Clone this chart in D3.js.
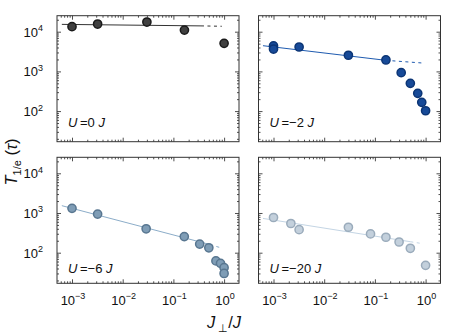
<!DOCTYPE html>
<html>
<head>
<meta charset="utf-8">
<script src="https://cdn.jsdelivr.net/npm/d3@7"></script>
<style>
body { margin: 0; background: #fff; }
svg { display: block; }
text { font-family: "Liberation Sans", Arial, Helvetica, sans-serif; fill: #111; }
</style>
</head>
<body>
<svg id="chart" width="457" height="333"></svg>
<script>
// tick values and their exponent labels
const xTicks = [1e-3, 1e-2, 1e-1, 1e0]
const xTickExp = ['\u22123', '\u22122', '\u22121', '0']
const yTicks = [1e2, 1e3, 1e4]
const yTickExp = ['2', '3', '4']

const uLabels = ['0', '\u22122', '\u22126', '\u221220']

// U = 0 J
const xU0 = [0.001, 0.0032, 0.03, 0.165, 1.0]
const yU0 = [13400, 15600, 17500, 11000, 5100]
// U = -2 J
const xU2 = [0.001, 0.001, 0.0032, 0.03, 0.165, 0.33, 0.5, 0.7, 0.84, 1.0]
const yU2 = [4370, 3660, 4120, 2550, 1940, 930, 500, 280, 166, 102]
// U = -6 J
const xU6 = [0.001, 0.0032, 0.029, 0.164, 0.33, 0.5, 0.69, 0.85, 1.0, 1.0]
const yU6 = [1310, 940, 400, 254, 165, 133, 62, 54, 42, 30]
// U = -20 J
const xU20 = [0.001, 0.0022, 0.0032, 0.03, 0.082, 0.165, 0.3, 0.5, 1.0]
const yU20 = [770, 543, 380, 437, 297, 245, 186, 129, 48]

// fitted lines: solid part then dashed continuation
const fitSolidX = [[0.00063, 0.35], [0.00062, 0.165], [0.00063, 0.53], [0.00062, 0.5]]
const fitSolidY = [[15300, 14000], [4440, 1900], [1530, 160], [730, 189]]
const fitDashX = [[0.35, 0.9], [0.165, 0.9], [0.53, 0.93], [0.5, 0.78]]
const fitDashY = [[14000, 13700], [1900, 1620], [160, 129], [189, 173]]

const xsAll = [xU0, xU2, xU6, xU20]
const ysAll = [yU0, yU2, yU6, yU20]

const fills = ['#404040', '#174a98', '#7f9db6', '#c3d0dc']
const strokes = ['#1a1a1a', '#0c3575', '#587690', '#9aabbb']
const lineColors = ['#333333', '#1f5bb0', '#8cadc9', '#c4d5e4']

const panelW = 182
const panelH = 126
const panelX = [57, 258.5, 57, 258.5]
const panelY = [15.7, 15.7, 157.3, 157.3]
const annotDy = [111, 111, 116, 116]

const svg = d3.select('#chart')

const xScale = d3.scaleLog()
    .domain([Math.pow(10, -3.296), Math.pow(10, 0.294)])
    .range([0, panelW])

const yScale = d3.scaleLog()
    .domain([Math.pow(10, 1.229), Math.pow(10, 4.403)])
    .range([panelH, 0])

const xMinor = xScale.ticks().filter(v => !xTicks.includes(v))
const yMinor = yScale.ticks().filter(v => !yTicks.includes(v))

const line = d3.line()
    .x(d => xScale(d[0]))
    .y(d => yScale(d[1]))

function powLabel(sel, exp) {
    sel.append('tspan').text('10')
    sel.append('tspan')
        .attr('dy', -5.5)
        .attr('font-size', 9)
        .text(exp)
}

xsAll.forEach((xs, i) => {
    const g = svg.append('g')
        .attr('transform', `translate(${panelX[i]},${panelY[i]})`)

    // ticks on all four sides, pointing inward
    const sides = [
        [d3.axisBottom, `translate(0,${panelH})`, xScale, xTicks, xMinor],
        [d3.axisTop, 'translate(0,0)', xScale, xTicks, xMinor],
        [d3.axisLeft, 'translate(0,0)', yScale, yTicks, yMinor],
        [d3.axisRight, `translate(${panelW},0)`, yScale, yTicks, yMinor]
    ]
    sides.forEach(s => {
        const [axisFn, tr, sc, major, minor] = s
        const gm = g.append('g').attr('transform', tr)
            .call(axisFn(sc).tickValues(major).tickSizeInner(-4).tickSizeOuter(0).tickFormat(''))
        const gn = g.append('g').attr('transform', tr)
            .call(axisFn(sc).tickValues(minor).tickSizeInner(-2).tickSizeOuter(0).tickFormat(''))
        ;[gm, gn].forEach(a => {
            a.select('.domain').remove()
            a.selectAll('line').attr('stroke', '#222').attr('stroke-width', 0.8)
        })
    })

    g.append('rect')
        .attr('width', panelW)
        .attr('height', panelH)
        .attr('fill', 'none')
        .attr('stroke', '#333')
        .attr('stroke-width', 1)

    // fit lines
    const solid = fitSolidX[i].map((x, k) => [x, fitSolidY[i][k]])
    const dash = fitDashX[i].map((x, k) => [x, fitDashY[i][k]])
    g.append('path')
        .attr('d', line(solid))
        .attr('fill', 'none')
        .attr('stroke', lineColors[i])
        .attr('stroke-width', 1)
    g.append('path')
        .attr('d', line(dash))
        .attr('fill', 'none')
        .attr('stroke', lineColors[i])
        .attr('stroke-width', 1)
        .attr('stroke-dasharray', '3,3.5')

    // data points
    const pts = xs.map((x, k) => [x, ysAll[i][k]])
    g.selectAll('circle')
        .data(pts)
        .enter()
        .append('circle')
        .attr('cx', d => xScale(d[0]))
        .attr('cy', d => yScale(d[1]))
        .attr('r', 4.1)
        .attr('fill', fills[i])
        .attr('stroke', strokes[i])
        .attr('stroke-width', 1.5)

    // panel annotation
    const t = g.append('text')
        .attr('x', 11)
        .attr('y', annotDy[i])
        .attr('font-size', 13)
    t.append('tspan').attr('font-style', 'italic').text('U')
    t.append('tspan').text('\u2009=' + uLabels[i] + ' ')
    t.append('tspan').attr('font-style', 'italic').text('J')

    // tick labels
    if (i % 2 === 0) {
        yTicks.forEach((v, k) => {
            const lab = g.append('text')
                .attr('x', -14)
                .attr('y', yScale(v) + 5)
                .attr('text-anchor', 'end')
                .attr('font-size', 13)
            powLabel(lab, yTickExp[k])
        })
    }
    if (i >= 2) {
        xTicks.forEach((v, k) => {
            const lab = g.append('text')
                .attr('x', xScale(v) + 1)
                .attr('y', panelH + 21.5)
                .attr('text-anchor', 'middle')
                .attr('font-size', 13)
            powLabel(lab, xTickExp[k])
        })
    }
})

// axis titles
const yTitle = svg.append('text')
    .attr('transform', 'translate(17,162) rotate(-90)')
    .attr('text-anchor', 'middle')
    .attr('font-size', 16.5)
yTitle.append('tspan').attr('font-style', 'italic').text('T')
yTitle.append('tspan').attr('font-size', 11).attr('dy', 4).text('1/e')
yTitle.append('tspan').attr('dy', -4).text(' (')
yTitle.append('tspan').attr('font-style', 'italic').text('\u03c4')
yTitle.append('tspan').text(')')

const xTitle = svg.append('text')
    .attr('x', 224)
    .attr('y', 327.5)
    .attr('text-anchor', 'middle')
    .attr('font-size', 16.5)
xTitle.append('tspan').attr('font-style', 'italic').text('J')
xTitle.append('tspan').attr('font-size', 11).attr('dy', 4).text(' \u22a5')
xTitle.append('tspan').attr('dy', -4).text('/')
xTitle.append('tspan').attr('font-style', 'italic').text('J')
</script>
</body>
</html>
